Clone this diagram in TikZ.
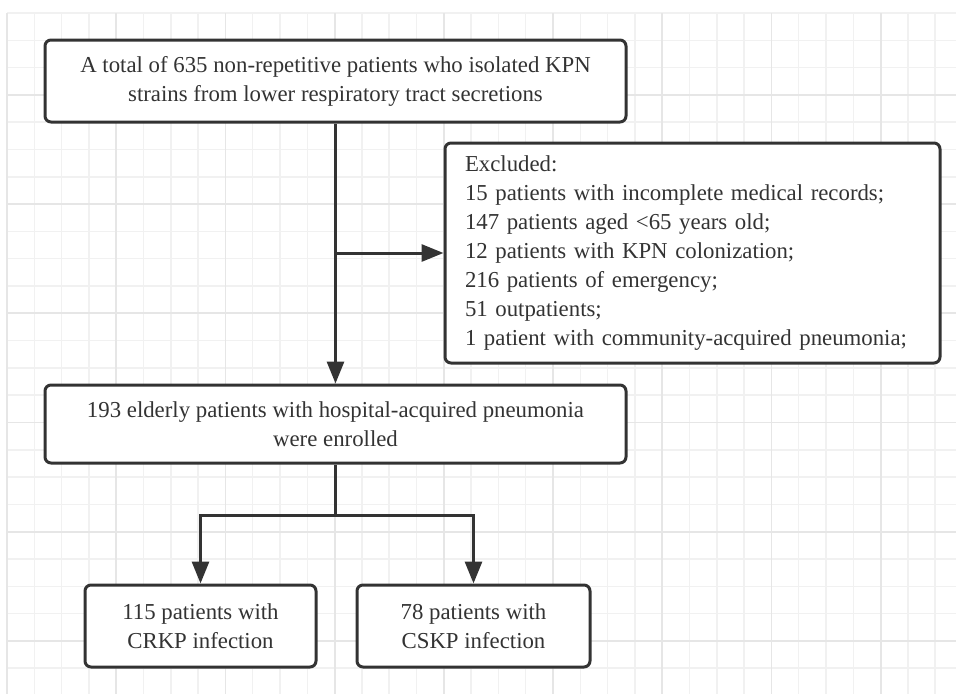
\documentclass[tikz,border=0pt]{standalone}
\usepackage{fontspec}
\setmainfont{Liberation Serif}
\usetikzlibrary{arrows.meta, positioning}
\definecolor{inkgrey}{RGB}{51, 51, 51}
\definecolor{gridminor}{RGB}{241, 241, 241}
\definecolor{gridmajor}{RGB}{230, 230, 230}

\begin{document}
\begin{tikzpicture}[x=1pt, y=-1pt,
        box/.style={draw=inkgrey, line width=3pt, rounded corners=6pt, fill=white, text=inkgrey, align=center, inner sep=0pt, font=\fontsize{22.8}{29}\selectfont},
        flow/.style={draw=inkgrey, line width=3pt, -{Triangle[length=22pt, width=17pt]}},
        link/.style={draw=inkgrey, line width=3pt}
    ]
        \useasboundingbox (0, 0) rectangle (956, 694);

        % background grid
        \foreach \i in {0,...,34} {
            \draw[gridminor, line width=1.5pt] (7+27.3*\i, 13) -- (7+27.3*\i, 694);
        }
        \foreach \j in {0,...,24} {
            \draw[gridminor, line width=1.5pt] (7, 13+27.3*\j) -- (956, 13+27.3*\j);
        }
        \foreach \i in {0,4,...,32} {
            \draw[gridmajor, line width=1.8pt] (7+27.3*\i, 13) -- (7+27.3*\i, 694);
        }
        \foreach \j in {3,7,...,23} {
            \draw[gridmajor, line width=1.8pt] (7, 13+27.3*\j) -- (956, 13+27.3*\j);
        }

        \node[box, minimum width=581pt, minimum height=82pt] (total) at (335.5, 81) {A total of 635 non-repetitive patients who isolated KPN\\strains from lower respiratory tract secretions};
        \node[box, minimum width=495pt, minimum height=220pt, text width=455pt, align=left] (excl) at (692.5, 253) {Excluded:\\15 patients with incomplete medical records;\\147 patients aged <65 years old;\\12 patients with KPN colonization;\\216 patients of emergency;\\51 outpatients;\\1 patient with community-acquired pneumonia;};
        \node[box, minimum width=581pt, minimum height=78pt] (enrol) at (335.5, 424) {193 elderly patients with hospital-acquired pneumonia\\were enrolled};
        \node[box, minimum width=231pt, minimum height=82pt] (crkp) at (200.5, 626) {115 patients with\\CRKP infection};
        \node[box, minimum width=233pt, minimum height=82pt] (cskp) at (473.5, 626) {78 patients with\\CSKP infection};

        \coordinate (split) at (total.south |- excl.west);
        \coordinate (fork) at (335.5, 515);

        \draw[flow] (total.south) -- (enrol.north);
        \draw[flow] (split) -- (excl.west);
        \draw[link] (enrol.south) -- (fork);
        \draw[flow] (fork) -| (crkp.north);
        \draw[flow] (fork) -| (cskp.north);
    \end{tikzpicture}
\end{document}
